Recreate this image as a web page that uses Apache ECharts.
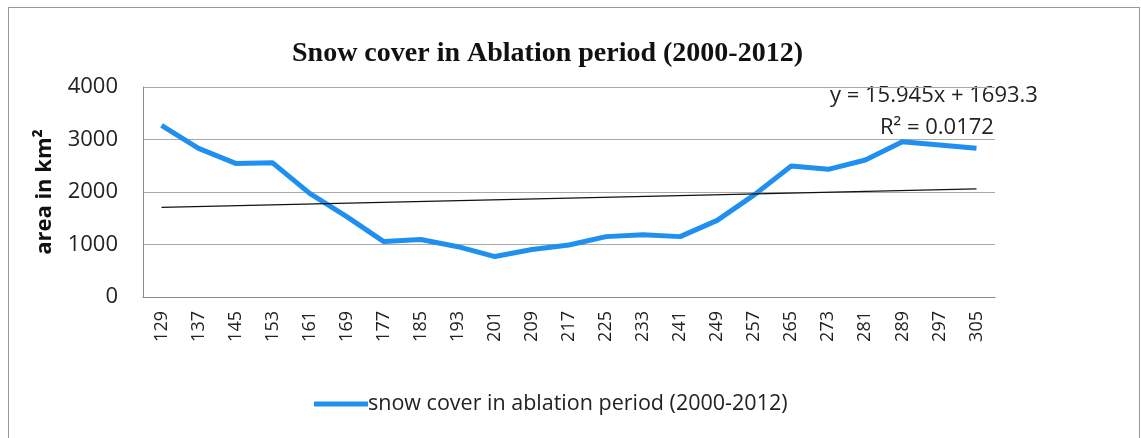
<!DOCTYPE html>
<html>
<head>
<meta charset="utf-8">
<script src="https://cdn.jsdelivr.net/npm/echarts@6/dist/echarts.min.js"></script>
<style>
  html, body { margin: 0; padding: 0; background: #fff; }
  #chart { position: absolute; left: 0; top: 0; width: 1141px; height: 438px; }
  #frame { position: absolute; left: 8px; top: 7px; width: 1130px; height: 440px; border: 1px solid #9a9a9a; }
</style>
</head>
<body>
<div id="frame"></div>
<div id="chart"></div>
<script>
// day of year (8-day composites)
const days = ['129','137','145','153','161','169','177','185','193','201','209','217',
  '225','233','241','249','257','265','273','281','289','297','305'];
// snow cover area, km²
const snowArea = [3270, 2830, 2545, 2555, 1975, 1530, 1055, 1095, 958, 770, 905, 990,
  1150, 1185, 1150, 1460, 1945, 2495, 2432, 2610, 2958, 2895, 2832];
// linear trend, start / end values
const trendEnds = [1709, 2060];
const yTicks = [0, 4000, 1000];

const chart = echarts.init(document.getElementById('chart'));
const lbl = '"Open Sans", sans-serif';

chart.setOption({
  animation: false,
  title: {
    text: 'Snow cover in Ablation period (2000-2012)',
    left: 287,
    top: 35,
    textStyle: { fontFamily: '"Liberation Serif", serif', fontWeight: 'bold', fontSize: 28, color: '#111' }
  },
  legend: {
    top: 388,
    left: 309,
    itemWidth: 54,
    itemHeight: 5,
    itemGap: 0,
    icon: 'rect',
    textStyle: { fontFamily: lbl, fontSize: 21.5, color: '#222', padding: [0, 0, 0, -5] },
    data: ['snow cover in ablation period (2000-2012)']
  },
  grid: { left: 143, right: 146, top: 87, bottom: 141 },
  xAxis: {
    type: 'category',
    data: days,
    boundaryGap: true,
    axisLine: { lineStyle: { color: '#8a8a8a' } },
    axisTick: { show: false },
    axisLabel: { rotate: 90, fontFamily: lbl, fontSize: 18, color: '#222', margin: 14 }
  },
  yAxis: {
    type: 'value',
    min: yTicks[0],
    max: yTicks[1],
    interval: yTicks[2],
    name: 'area in km²',
    nameLocation: 'middle',
    nameGap: 87,
    nameTextStyle: { fontFamily: lbl, fontWeight: 'bold', fontSize: 22, color: '#111' },
    axisLine: { show: true, lineStyle: { color: '#8a8a8a' } },
    axisTick: { show: false },
    splitLine: { lineStyle: { color: '#a8a8a8' } },
    axisLabel: { fontFamily: lbl, fontSize: 22, color: '#222', margin: 25, formatter: v => String(v) }
  },
  graphic: [
    { type: 'text', left: 830, top: 85, style: { text: 'y = 15.945x + 1693.3', font: '22px ' + lbl, fill: '#222' } },
    { type: 'text', left: 880, top: 117, style: { text: 'R² = 0.0172', font: '22px ' + lbl, fill: '#222' } }
  ],
  series: [
    {
      name: 'snow cover in ablation period (2000-2012)',
      type: 'line',
      data: snowArea,
      symbol: 'none',
      lineStyle: { color: '#2090f0', width: 5 },
      itemStyle: { color: '#2090f0' },
      markLine: {
        silent: true,
        symbol: 'none',
        label: { show: false },
        lineStyle: { color: '#111', width: 1.3, type: 'solid' },
        data: [[
          { coord: [days[0], trendEnds[0]] },
          { coord: [days[days.length - 1], trendEnds[1]] }
        ]]
      }
    }
  ]
});
</script>
</body>
</html>
